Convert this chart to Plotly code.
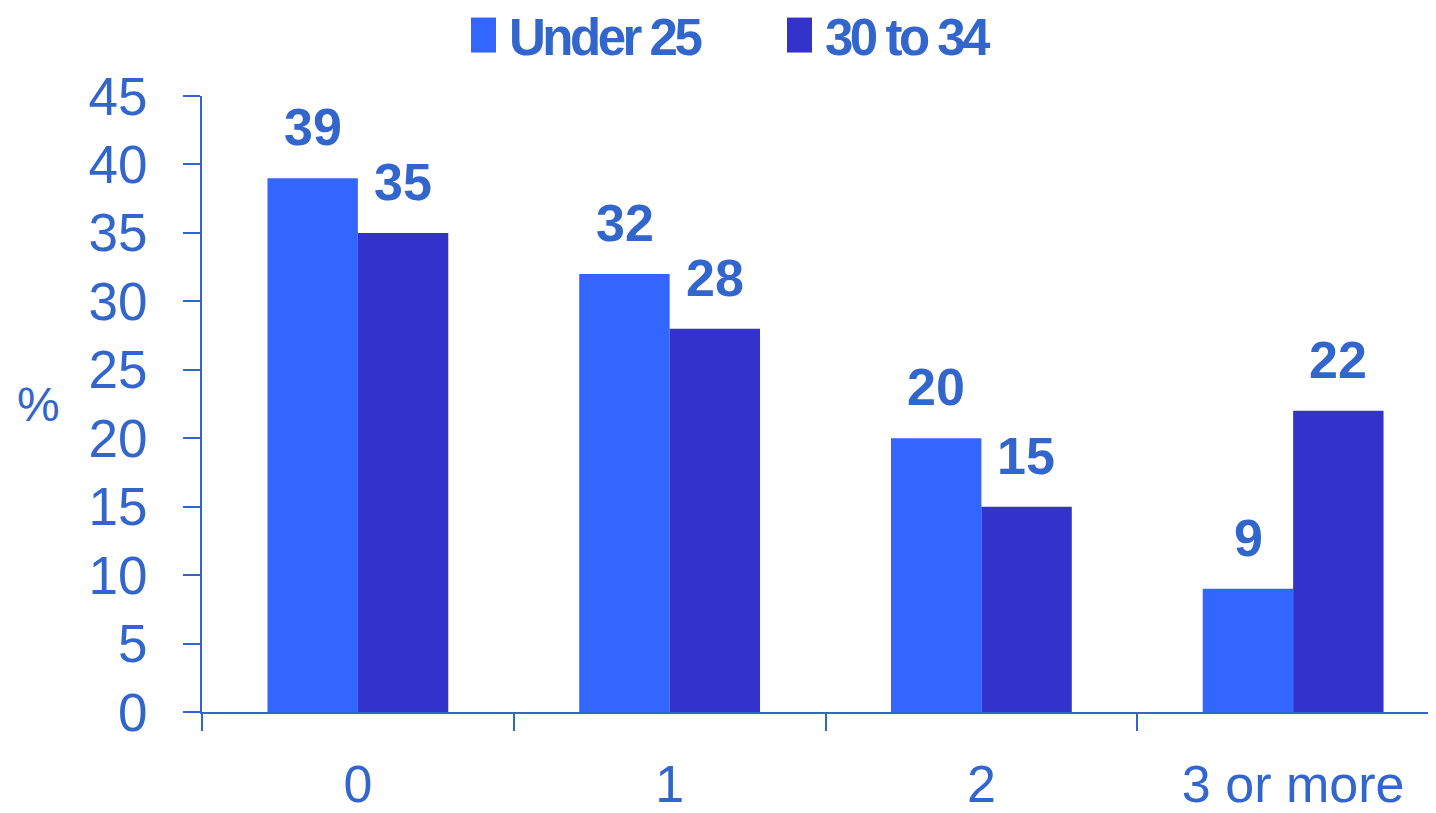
import plotly.graph_objects as go

categories = ["0", "1", "2", "3 or more"]
series_names = ["Under 25", "30 to 34"]
under25 = [39, 32, 20, 9]
age30_34 = [35, 28, 15, 22]
series_values = [under25, age30_34]
colors = ["#3366FF", "#3333CC"]
text_color = "#3366CC"
y_ticks = [0, 5, 10, 15, 20, 25, 30, 35, 40, 45]

fig = go.Figure()
for name, vals, col in zip(series_names, series_values, colors):
    fig.add_trace(go.Bar(x=categories, y=vals, name=name, marker_color=col,
                         marker_line_width=0, showlegend=False))

# value labels above the bars
for i, (vals, shift) in enumerate(zip(series_values, [-45, 45])):
    for c, v in zip(categories, vals):
        fig.add_annotation(x=c, y=v, xref="x", yref="y", text=f"<b>{v}</b>",
                           showarrow=False, xshift=shift, yanchor="bottom", yshift=20,
                           font=dict(family="Liberation Sans, Arial, sans-serif", size=52, color=text_color))

# custom legend (page coordinates relative to plot area at x=202, y=712)
PW, PH = 1234, 616.5
leg_x = [471, 787]
for name, col, lx in zip(series_names, colors, leg_x):
    fig.add_shape(type="rect", xref="paper", yref="paper",
                  x0=(lx - 202) / PW, x1=(lx + 25 - 202) / PW,
                  y0=(712 - 52) / PH, y1=(712 - 17) / PH,
                  fillcolor=col, line_width=0)
    fig.add_annotation(xref="paper", yref="paper", x=(lx + 36 - 202) / PW, y=(712 - 37) / PH,
                       xanchor="left", yanchor="middle",
                       text=f"<span style='letter-spacing:-3.5px'><b>{name}</b></span>", showarrow=False,
                       font=dict(family="Liberation Sans Narrow, Arial Narrow, Liberation Sans, sans-serif",
                                 size=51, color=text_color))

fig.add_annotation(xref="paper", yref="paper", x=-(202 - 38) / PW, y=0.5, text="%",
                   showarrow=False, xanchor="center", yanchor="middle",
                   font=dict(family="Liberation Sans, Arial, sans-serif", size=48, color=text_color))

# the page body has an 8px margin, so the figure is 8px smaller and margins shifted
fig.update_layout(
    width=1428, height=805,
    margin=dict(l=194, r=0, t=88, b=101, autoexpand=False),
    paper_bgcolor="white", plot_bgcolor="white",
    barmode="group", bargap=0.42, bargroupgap=0,
    font=dict(family="Liberation Sans, Arial, sans-serif", size=52, color=text_color),
)
fig.update_xaxes(range=[-0.5, 3.5 - 13 / 311.7], showline=True, linecolor=text_color, linewidth=2,
                 ticks="outside", tickson="boundaries", ticklen=17, tickwidth=2, tickcolor=text_color,
                 showgrid=False, zeroline=False, ticklabelstandoff=26, automargin=False,
                 tickfont=dict(size=52, color=text_color))
fig.update_yaxes(range=[0, 45], tickvals=y_ticks, showline=True, linecolor=text_color, linewidth=2,
                 ticks="outside", ticklen=17, tickwidth=2, tickcolor=text_color,
                 showgrid=False, zeroline=False, ticklabelstandoff=25, automargin=False,
                 tickfont=dict(size=53, color=text_color))

fig.write_html("out.html")
